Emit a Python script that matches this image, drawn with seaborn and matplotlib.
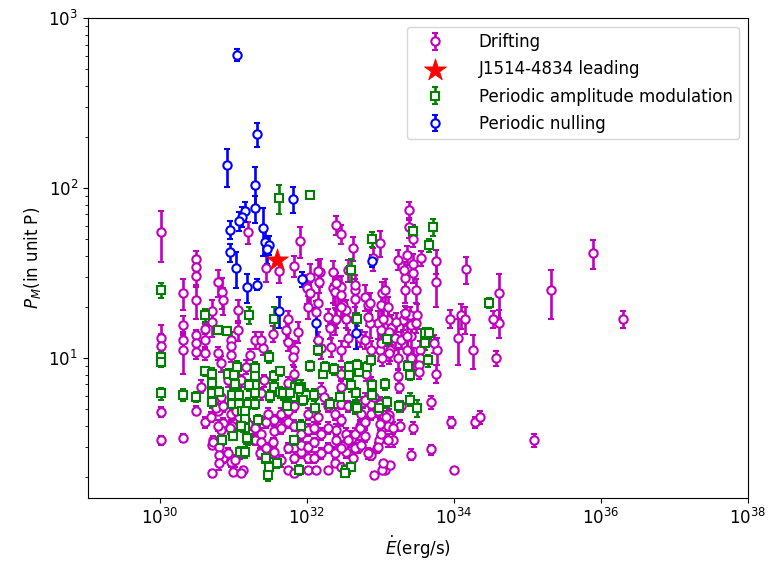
import numpy as np
import matplotlib
matplotlib.use("Agg")
import matplotlib.pyplot as plt
import seaborn as sns
from matplotlib.ticker import NullLocator

# Drifting pulsars: log10(Edot), P_M (in units of P), error on P_M
drift_log_edot = [
    30.01, 30.49, 30.49, 30.49, 30.49, 31.20, 31.91, 32.40, 32.47, 32.63,
    33.00, 33.39, 33.39, 33.44, 33.24, 33.36, 32.90, 31.45, 31.62, 31.82,
    32.18, 32.36, 32.35, 32.43, 30.79, 30.85, 30.32, 32.04, 32.00, 32.56,
    32.47, 30.01, 30.01, 30.01, 30.01, 30.32, 30.32, 30.32, 30.32, 30.49,
    30.49, 30.49, 30.49, 30.61, 30.61, 30.61, 30.61, 30.71, 30.71, 30.72,
    30.71, 30.71, 30.86, 30.79, 30.83, 30.79, 30.86, 30.83, 30.97, 30.97,
    30.97, 30.98, 30.97, 30.99, 31.06, 31.06, 31.09, 31.13, 31.23, 31.29,
    31.40, 31.33, 31.36, 31.74, 31.72, 31.88, 31.83, 31.81, 32.04, 32.01,
    32.15, 32.17, 32.15, 32.13, 32.38, 32.40, 32.47, 32.49, 32.38, 32.31,
    32.53, 32.65, 32.65, 32.65, 32.79, 32.83, 33.03, 33.01, 32.97, 33.01,
    33.10, 33.15, 33.33, 33.33, 33.31, 33.42, 33.44, 33.44, 33.42, 33.44,
    33.55, 33.76, 33.76, 34.17, 34.62, 34.62, 34.53, 35.33, 35.89, 36.30,
    34.26, 34.58, 34.06, 33.95, 34.10, 34.15, 33.49, 33.06, 33.11, 33.04,
    32.86, 32.65, 32.47, 32.54, 32.40, 32.47, 32.72, 32.99, 33.13, 33.24,
    33.02, 33.20, 33.22, 33.35, 33.40, 33.50, 33.48, 33.42, 33.54, 33.54,
    33.53, 33.77, 33.76, 33.73, 33.53, 32.81, 32.99, 33.12, 33.69, 33.32,
    33.42, 33.69, 33.45, 33.96, 34.29, 34.36, 34.00, 35.09, 32.76, 32.88,
    33.27, 33.12, 33.11, 33.17, 33.06, 32.98, 32.88, 32.95, 32.92, 33.06,
    33.13, 32.54, 32.63, 32.40, 32.49, 32.40, 32.54, 32.61, 32.72, 32.79,
    32.70, 30.73, 30.81, 30.79, 30.86, 30.93, 31.02, 31.11, 31.20, 31.29,
    31.38, 31.29, 31.38, 31.44, 31.56, 31.56, 31.54, 31.65, 31.74, 31.83,
    31.56, 31.65, 31.74, 31.83, 31.92, 31.92, 32.01, 32.10, 32.01, 32.10,
    32.19, 31.74, 31.83, 32.01, 32.13, 32.19, 32.29, 32.29, 32.38, 32.47,
    32.29, 32.38, 32.47, 32.56, 32.65, 32.72, 32.65, 32.74, 32.83, 32.97,
    33.10, 33.03, 32.74, 32.79, 32.87, 32.99, 33.01, 33.17, 33.28, 31.92,
    32.01, 32.10, 31.65, 31.74, 31.83, 31.44, 31.47, 30.97, 31.08, 30.77,
    30.86, 32.29, 32.38, 32.47, 32.47, 32.56, 32.01, 32.15, 31.38, 31.54,
    31.74, 32.15, 32.19, 32.33, 32.56, 32.79, 32.87, 33.01, 33.12, 33.28,
    33.37, 33.24, 33.26, 32.87, 32.92, 32.79, 32.47, 32.47, 32.19, 32.24,
    31.83, 31.74, 31.92, 31.42, 31.38, 31.17, 31.11, 30.93, 30.74, 30.83,
    30.56, 32.29, 32.86, 32.83, 33.12, 33.36, 33.33, 32.97, 33.08, 33.04,
    30.70, 30.81, 30.81, 31.04, 30.95,
]
drift_pm = [
    55, 38.5, 34.2, 30.3, 22.1, 55, 49, 61, 54, 44.4,
    47.6, 74, 59, 50, 38, 40.4, 38.6, 34, 32.6, 35,
    32.2, 32.2, 26, 24.9, 28, 24.5, 24.3, 30, 25.7, 33,
    26.3, 13.1, 11.8, 4.83, 3.3, 15.6, 12.8, 11.1, 3.4, 13.7,
    12.2, 10.9, 4.9, 14.8, 12.8, 10.7, 4.2, 19, 16.3, 3.3,
    3.1, 2.1, 22, 10.7, 9.3, 4.9, 4.15, 3.8, 12.8, 11.8,
    10.5, 4.0, 2.45, 2.15, 19.1, 14.6, 2.75, 2.2, 10.5, 12.8,
    11.4, 3.3, 2.75, 16.9, 14.6, 14.3, 11.1, 10.1, 24, 20.1,
    32.6, 28, 21, 18.8, 24.6, 27.5, 23.5, 20.5, 16.7, 15.0,
    19.1, 25.1, 22.4, 17.1, 23, 20.5, 24, 20.5, 16, 14.6,
    16.7, 15.0, 29.5, 25.1, 16.7, 15.6, 36, 31.5, 13.4, 10,
    38.6, 37.2, 27.9, 33.4, 24.3, 16.1, 17, 25.1, 41.4, 17,
    11.1, 10, 13.1, 17.1, 17.9, 16.9, 25.1, 25.1, 20, 16.9,
    16.1, 26.8, 20.1, 17.1, 17.1, 11.1, 13.1, 11.1, 11.1, 10,
    10, 13.1, 16.3, 17.9, 17.9, 17.9, 16, 10, 11.1, 10,
    9.1, 11.1, 8.1, 12.2, 8.3, 8.1, 5.4, 4.6, 5.5, 33,
    2.7, 2.9, 3.9, 4.2, 4.2, 4.5, 2.2, 3.3, 5.5, 5.4,
    4.0, 4.4, 4.0, 3.3, 3.4, 3.3, 2.7, 2.95, 2.05, 2.2,
    2.35, 2.8, 2.6, 3.3, 3.05, 3.8, 3.6, 3.4, 4.0, 3.5,
    2.95, 3.2, 3.0, 4.0, 2.6, 2.75, 2.5, 2.1, 4.1, 3.9,
    3.6, 3.3, 3.2, 2.95, 4.3, 3.7, 3.2, 3.9, 4.2, 4.0,
    2.8, 2.5, 2.95, 2.6, 2.8, 3.1, 3.0, 3.2, 2.6, 2.6,
    2.75, 2.2, 2.1, 2.2, 2.2, 3.6, 3.9, 2.95, 2.75, 2.95,
    2.2, 2.4, 2.3, 3.3, 3.6, 3.9, 2.95, 3.1, 2.75, 3.0,
    3.3, 2.2, 4.7, 4.2, 4.7, 4.1, 3.6, 3.9, 5.2, 3.6,
    3.8, 3.9, 4.7, 4.9, 5.2, 4.2, 4.7, 4.7, 4.5, 5.1,
    5.2, 5.2, 4.7, 4.3, 5.4, 5.2, 4.7, 4.5, 12.8, 13.9,
    12.5, 12.8, 11.4, 11.6, 13.1, 12.8, 11.1, 12.2, 10.7, 12.8,
    11.1, 7.8, 6.8, 7.1, 5.9, 5.7, 8.1, 6.8, 6.5, 5.9,
    8.1, 7.1, 6.2, 7.4, 6.2, 8.9, 7.4, 7.4, 5.7, 5.9,
    6.8, 17.5, 21, 17.5, 14.3, 13.4, 18.3, 4.9, 4.5, 2.4,
    4.5, 2.7, 2.4, 4.9, 3.9,
]
drift_err = [
    18, 4, 4, 4, 5, 8, 10, 8, 7, 7,
    8, 9, 8, 5, 5, 5, 6, 6, 5, 5,
    6, 5, 5, 5, 5, 5, 5, 6, 5, 5,
    4, 2.5, 2, 0.3, 0.2, 2, 1.5, 3, 0.2, 1,
    1, 1, 0.3, 1, 1.5, 1, 0.3, 3, 3, 0.2,
    0.2, 0.1, 4, 1, 1, 0.3, 0.3, 0.3, 1.5, 1.5,
    1, 0.3, 0.15, 0.1, 3, 2, 0.2, 0.1, 0.8, 1.5,
    1, 0.2, 0.2, 2, 2, 2, 1.5, 1, 4, 3,
    5, 4, 3, 3, 4, 4, 4, 3, 3, 2,
    3, 4, 4, 3, 4, 3, 4, 3, 3, 2,
    3, 3, 5, 4, 2, 2, 5, 4, 2, 1.5,
    4, 6, 8, 6, 7, 3, 2, 8, 8, 2,
    2.5, 1, 4, 2, 3, 3, 4, 4, 3, 3,
    3, 4, 3, 2, 2, 1.5, 1.5, 1.5, 1.5, 1.5,
    1, 2, 2, 2, 2, 3, 2, 1, 1.5, 1,
    1, 2, 1, 1.5, 0.8, 0.8, 0.5, 0.4, 0.5, 4,
    0.2, 0.2, 0.3, 0.3, 0.3, 0.4, 0, 0.3, 0.4, 0.4,
    0.3, 0.3, 0.3, 0.3, 0.2, 0.2, 0.2, 0.2, 0.1, 0,
    0, 0.2, 0.2, 0.3, 0.2, 0.3, 0.3, 0.3, 0.3, 0.3,
    0.2, 0.2, 0.2, 0.3, 0.2, 0.2, 0.2, 0, 0.3, 0.3,
    0.3, 0.2, 0.2, 0.2, 0.3, 0.3, 0.2, 0.3, 0.3, 0.3,
    0.2, 0.2, 0.2, 0.2, 0.2, 0.2, 0.2, 0.2, 0.2, 0.2,
    0.2, 0.1, 0.1, 0.1, 0.1, 0.3, 0.3, 0.2, 0.2, 0.2,
    0.1, 0.1, 0.1, 0.3, 0.3, 0.3, 0.2, 0.2, 0.2, 0.2,
    0.3, 0.1, 0.4, 0.3, 0.4, 0.3, 0.3, 0.3, 0.4, 0.3,
    0.3, 0.3, 0.4, 0.4, 0.4, 0.3, 0.4, 0.4, 0.4, 0.4,
    0.4, 0.4, 0.4, 0.3, 0.4, 0.4, 0.4, 0.4, 1.5, 1.5,
    1.5, 1.5, 1.5, 1.5, 1.5, 1.5, 1.5, 1.5, 1.5, 1.5,
    1.5, 0.8, 0.6, 0.6, 0.5, 0.5, 0.8, 0.6, 0.6, 0.5,
    0.8, 0.6, 0.5, 0.6, 0.5, 0.8, 0.6, 0.6, 0.5, 0.5,
    0.6, 2, 3, 2, 2, 2, 2, 0.4, 0.4, 0.1,
    0.3, 0.2, 0.2, 0.4, 0.3,
]

# Periodic amplitude modulation
pam_log_edot = [
    30.01, 30.01, 30.01, 30.01, 30.32, 30.49, 30.61, 30.79, 30.92, 30.61,
    30.71, 30.71, 30.71, 30.71, 30.81, 30.93, 31.01, 31.02, 30.98, 30.98,
    31.05, 31.08, 31.08, 31.12, 31.20, 31.21, 31.29, 31.30, 31.30, 31.30,
    31.30, 31.16, 31.16, 31.16, 31.21, 31.34, 31.48, 31.56, 31.56, 31.50,
    31.56, 30.85, 31.00, 31.09, 31.16, 31.20, 31.44, 31.49, 31.47, 31.59,
    31.83, 31.89, 31.63, 31.73, 31.73, 31.84, 31.84, 31.92, 31.92, 31.99,
    32.10, 32.11, 31.92, 32.05, 32.15, 32.22, 32.25, 32.37, 32.32, 32.45,
    32.58, 32.58, 32.60, 32.60, 32.69, 32.67, 32.65, 32.53, 32.60, 32.71,
    32.82, 32.88, 32.89, 32.89, 32.98, 33.09, 33.09, 33.26, 33.38, 33.41,
    33.40, 32.89, 33.45, 33.72, 33.66, 34.48, 33.61, 33.67, 33.61, 33.65,
    32.68, 33.06, 32.68, 33.50, 32.52, 31.62, 32.05, 31.63, 31.68, 31.77,
    31.90, 31.18, 31.95, 31.45, 31.11,
]
pam_pm = [
    25.1, 10.2, 9.5, 6.2, 6.1, 5.9, 17.9, 14.6, 14.4, 8.4,
    8.1, 7.1, 6.2, 5.5, 6.3, 8.1, 8.0, 7.0, 6.1, 5.4,
    8.9, 6.1, 5.4, 4.9, 5.4, 17.9, 8.7, 7.8, 6.9, 6.2,
    5.4, 4.9, 4.4, 3.9, 6.9, 4.3, 10.2, 7.8, 6.8, 6.0,
    16.9, 3.3, 3.5, 2.8, 2.8, 3.3, 2.55, 2.3, 2.05, 2.4,
    3.3, 2.2, 6.3, 6.1, 5.2, 6.8, 5.9, 6.8, 5.9, 6.1,
    6.1, 5.1, 4.0, 9.0, 11.2, 8.1, 8.9, 8.6, 5.4, 5.9,
    8.9, 8.0, 6.9, 33.2, 16.9, 6.2, 5.2, 2.2, 2.3, 8.3,
    8.9, 9.7, 6.9, 6.1, 5.1, 13.0, 5.5, 5.2, 9.0, 8.0,
    5.7, 50, 56, 59, 46, 21.1, 14.0, 14.0, 12.2, 9.7,
    9.1, 7.0, 5.1, 5.1, 2.1, 87, 90.6, 8.4, 6.2, 6.2,
    6.6, 3.4, 5.7, 2.6, 4.0,
]
pam_err = [
    2.4, 0.6, 0.6, 0.5, 0.5, 0.4, 1.5, 0.8, 0.8, 0.5,
    0.6, 0.5, 0.5, 0.4, 0.5, 0.5, 0.6, 0.6, 0.5, 0.4,
    0.7, 0.5, 0.4, 0.4, 0.4, 2.0, 0.8, 0.6, 0.6, 0.5,
    0.4, 0.4, 0.4, 0.3, 0.5, 0.3, 0.8, 0.6, 0.6, 0.5,
    3.0, 0.2, 0.2, 0.2, 0.2, 0.2, 0.15, 0.15, 0.15, 0.15,
    0.2, 0.15, 0.5, 0.5, 0.5, 0.6, 0.5, 0.6, 0.5, 0.5,
    0.5, 0.6, 0.3, 0.6, 0.8, 0.5, 0.6, 0.6, 0.4, 0.5,
    0.6, 0.6, 0.6, 5, 1.5, 0.5, 0.5, 0.1, 0.1, 0.5,
    0.6, 0.6, 0.5, 0.5, 0.4, 1.2, 0.4, 0.4, 0.6, 0.6,
    0.5, 5, 5, 7, 4, 1.5, 1.0, 1.0, 1.0, 0.8,
    0.6, 0.5, 0.4, 0.6, 0.1, 17, 0, 0.5, 0.5, 0.5,
    0.5, 0.2, 0.4, 0.15, 0.3,
]

# Periodic nulling
null_log_edot = [
    31.05, 31.32, 30.92, 31.30, 31.30, 31.81, 31.16, 31.12, 31.08, 31.41,
    30.96, 31.43, 31.49, 31.46, 30.96, 31.04, 31.18, 31.32, 31.94, 31.62,
    32.12, 32.67, 32.89,
]
null_pm = [
    610, 208, 136, 104, 76, 86, 73, 68, 64, 58,
    57, 48.5, 46.4, 43.6, 41.9, 33.9, 26.2, 27.1, 29.3, 19.0,
    16.1, 14.0, 37.2,
]
null_err = [
    50, 33, 34, 30, 14, 15, 10, 9, 8, 18,
    7, 8, 6, 8, 5, 8, 5, 2, 3, 4,
    3.5, 2.7, 3,
]

# J1514-4834 leading component
star_log_edot = [31.60]
star_pm = [37.7]

fig = plt.figure(figsize=(7.78, 5.68), dpi=100)
ax = fig.add_axes([0.113, 0.123, 0.848, 0.845])

style = dict(mfc="white", ms=6, mew=1.5, elinewidth=1.9, capsize=2, capthick=1.4, ls="none")

ax.errorbar(10 ** np.array(drift_log_edot), drift_pm, yerr=drift_err,
            fmt="o", color="m", label="Drifting", **style)
sns.scatterplot(x=10 ** np.array(star_log_edot), y=star_pm, marker="*", s=280,
                color="red", edgecolor="red", linewidth=0.5,
                label="J1514-4834 leading", ax=ax, zorder=3)
ax.errorbar(10 ** np.array(pam_log_edot), pam_pm, yerr=pam_err,
            fmt="s", color="g", label="Periodic amplitude modulation", **style)
ax.errorbar(10 ** np.array(null_log_edot), null_pm, yerr=null_err,
            fmt="o", color="b", label="Periodic nulling", **style)

ax.set_xscale("log")
ax.set_yscale("log")
ax.set_xlim(1.05e29, 1e38)
ax.set_ylim(1.5, 1000)
ax.set_xticks([1e30, 1e32, 1e34, 1e36, 1e38])
ax.xaxis.set_minor_locator(NullLocator())
ax.tick_params(labelsize=12)

ax.set_xlabel(r"$\dot{E}$(erg/s)", fontsize=12)
ax.set_ylabel(r"$P_M$(in unit P)", fontsize=12)

order = ["Drifting", "J1514-4834 leading", "Periodic amplitude modulation", "Periodic nulling"]
handles, labels = ax.get_legend_handles_labels()
lookup = dict(zip(labels, handles))
ax.legend([lookup[k] for k in order], order, loc="upper right", fontsize=12,
          handlelength=2.6, handletextpad=1.3, labelspacing=0.55)

fig.savefig("out.png", dpi=100)
